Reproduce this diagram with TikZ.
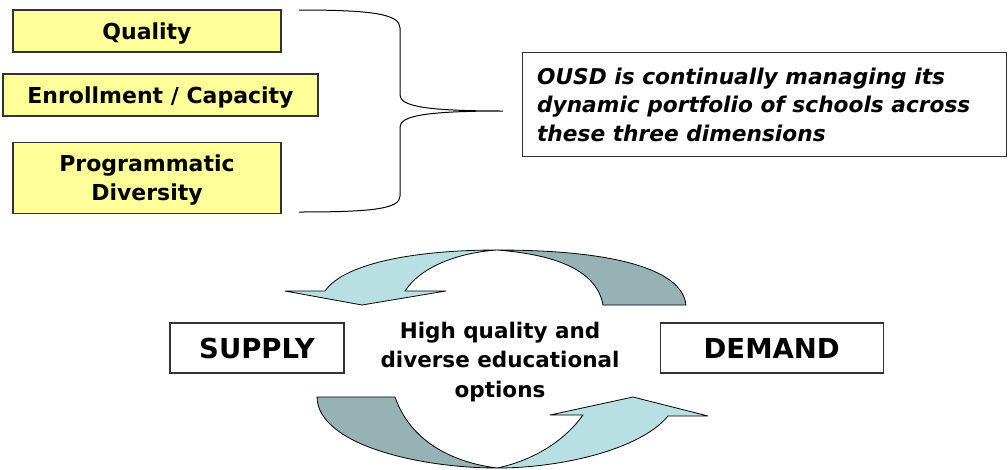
\documentclass[tikz,border=0pt]{standalone}
\usepackage{fontspec}
\setmainfont{DejaVu Sans}
\usepackage{tikz}
\usetikzlibrary{positioning}
\definecolor{pale-yellow}{HTML}{FFFF99}
\definecolor{pale-cyan}{HTML}{B8DFE1}
\definecolor{grey-teal}{HTML}{96B2B5}
\tikzset{
    yellow-box/.style = {draw=black!80, fill=pale-yellow, line width=1.2pt, rectangle, align=center, text depth=0pt, font=\fontsize{22}{29.5}\selectfont\bfseries},
    plain-box/.style = {draw=black!80, fill=white, line width=1.2pt, rectangle, text depth=0pt, minimum height=50pt, font=\fontsize{27.5}{33}\selectfont\bfseries},
    note-box/.style = {draw=black!80, line width=1.2pt, rectangle, minimum width=484pt, minimum height=104pt, inner sep=0pt, font=\fontsize{21.7}{28.5}\selectfont\bfseries\itshape},
    band-front/.style = {fill=pale-cyan, draw=black, line width=0.8pt, line join=round},
    band-back/.style = {fill=grey-teal, draw=black, line width=0.8pt, line join=round},
}

\begin{document}
\begin{tikzpicture}[x=1pt, y=-1pt]
\useasboundingbox (0,0) rectangle (1008,469);
\path[band-back] (497,250) .. controls (610,250) and (682,268) .. (686,305) -- (603,305) .. controls (597,272) and (560,255) .. (497,250) -- cycle;
\path[band-front] (497,250) .. controls (420,250) and (345,262) .. (325,291) -- (285,291) -- (362,305) -- (446,291) -- (405,291) .. controls (420,268) and (455,253) .. (497,250) -- cycle;
\path[band-back] (317,397) -- (395,397) .. controls (410,440) and (450,462) .. (497,468) .. controls (420,468) and (318,445) .. (317,397) -- cycle;
\path[band-front] (497,468) .. controls (560,468) and (640,450) .. (668,416) -- (708,416) -- (633,397) -- (550,415) -- (583,415) .. controls (565,440) and (535,460) .. (497,468) -- cycle;

\node[yellow-box, minimum width=268pt, minimum height=42pt] (quality) at (147,31) {Quality};
\node[yellow-box, minimum width=315pt, minimum height=42pt] (enrollment) at (160.5,95) {Enrollment / Capacity};
\node[yellow-box, minimum width=268pt, minimum height=71pt, below=89pt of quality] (diversity) {Programmatic\\Diversity};

\coordinate (brace-tip) at (503,111);
\draw[line width=1pt] (299,10) .. controls (372,10) and (400,14) .. (400,28) -- (400,95) .. controls (400,106) and (425,111) .. (brace-tip) .. controls (425,111) and (400,116) .. (400,127) -- (400,196) .. controls (400,209) and (372,212) .. (299,212);

\node[note-box, anchor=north west] (note) at (522,52) {\begin{minipage}{455pt}\raggedright
    OUSD is continually managing its\\
    dynamic portfolio of schools across\\
    these three dimensions
\end{minipage}};

\node[plain-box, minimum width=174pt] (supply) at (257,348) {SUPPLY};
\node[plain-box, minimum width=223pt, right=315pt of supply] (demand) {DEMAND};
\node[align=center, font=\fontsize{21.5}{29.5}\selectfont\bfseries] (options) at (500,362) {High quality and\\diverse educational\\options};
\end{tikzpicture}
\end{document}
